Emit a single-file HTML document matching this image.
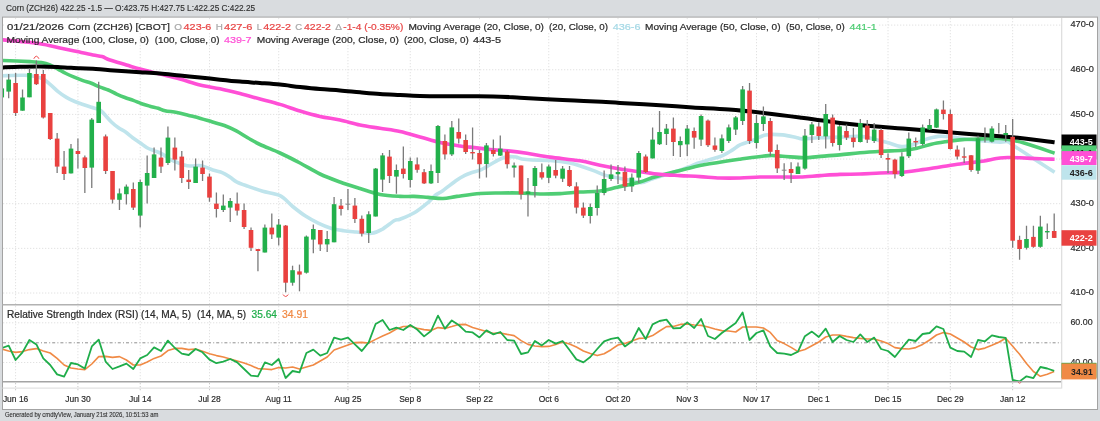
<!DOCTYPE html><html><head><meta charset="utf-8"><style>html,body{margin:0;padding:0;width:1100px;height:421px;overflow:hidden;background:#d9dcdf}svg{display:block;will-change:transform;font-family:"Liberation Sans", sans-serif}</style></head><body>
<svg width="1100" height="421" viewBox="0 0 1100 421">
<rect x="0" y="0" width="1100" height="421" fill="#d9dcdf"/>
<text x="6.1" y="10.6" font-size="8.2" fill="#303030" stroke="#303030" stroke-width="0.15" textLength="249" lengthAdjust="spacingAndGlyphs">Corn (ZCH26) 422.25 -1.5 — O:423.75 H:427.75 L:422.25 C:422.25</text>
<rect x="2.5" y="17.1" width="1095" height="392.4" fill="#fff" stroke="#a3a3a3" stroke-width="1"/>
<defs><clipPath id="pc"><rect x="3" y="18" width="1058.5" height="286"/></clipPath><clipPath id="rc"><rect x="3" y="305.5" width="1058.5" height="76"/></clipPath></defs>
<line x1="3" y1="25.10" x2="1061" y2="25.10" stroke="#e2e2e2" stroke-width="1" stroke-dasharray="1.3 1.7"/>
<line x1="3" y1="69.75" x2="1061" y2="69.75" stroke="#e2e2e2" stroke-width="1" stroke-dasharray="1.3 1.7"/>
<line x1="3" y1="114.40" x2="1061" y2="114.40" stroke="#e2e2e2" stroke-width="1" stroke-dasharray="1.3 1.7"/>
<line x1="3" y1="159.05" x2="1061" y2="159.05" stroke="#e2e2e2" stroke-width="1" stroke-dasharray="1.3 1.7"/>
<line x1="3" y1="203.70" x2="1061" y2="203.70" stroke="#e2e2e2" stroke-width="1" stroke-dasharray="1.3 1.7"/>
<line x1="3" y1="248.35" x2="1061" y2="248.35" stroke="#e2e2e2" stroke-width="1" stroke-dasharray="1.3 1.7"/>
<line x1="3" y1="293.00" x2="1061" y2="293.00" stroke="#e2e2e2" stroke-width="1" stroke-dasharray="1.3 1.7"/>
<line x1="15.60" y1="18" x2="15.60" y2="381" stroke="#e2e2e2" stroke-width="1" stroke-dasharray="1.3 1.7"/>
<line x1="15.60" y1="383" x2="15.60" y2="391" stroke="#c8c8c8" stroke-width="1" stroke-dasharray="1.3 1.7"/>
<line x1="77.92" y1="18" x2="77.92" y2="381" stroke="#e2e2e2" stroke-width="1" stroke-dasharray="1.3 1.7"/>
<line x1="77.92" y1="383" x2="77.92" y2="391" stroke="#c8c8c8" stroke-width="1" stroke-dasharray="1.3 1.7"/>
<line x1="140.23" y1="18" x2="140.23" y2="381" stroke="#e2e2e2" stroke-width="1" stroke-dasharray="1.3 1.7"/>
<line x1="140.23" y1="383" x2="140.23" y2="391" stroke="#c8c8c8" stroke-width="1" stroke-dasharray="1.3 1.7"/>
<line x1="209.47" y1="18" x2="209.47" y2="381" stroke="#e2e2e2" stroke-width="1" stroke-dasharray="1.3 1.7"/>
<line x1="209.47" y1="383" x2="209.47" y2="391" stroke="#c8c8c8" stroke-width="1" stroke-dasharray="1.3 1.7"/>
<line x1="278.71" y1="18" x2="278.71" y2="381" stroke="#e2e2e2" stroke-width="1" stroke-dasharray="1.3 1.7"/>
<line x1="278.71" y1="383" x2="278.71" y2="391" stroke="#c8c8c8" stroke-width="1" stroke-dasharray="1.3 1.7"/>
<line x1="347.95" y1="18" x2="347.95" y2="381" stroke="#e2e2e2" stroke-width="1" stroke-dasharray="1.3 1.7"/>
<line x1="347.95" y1="383" x2="347.95" y2="391" stroke="#c8c8c8" stroke-width="1" stroke-dasharray="1.3 1.7"/>
<line x1="410.27" y1="18" x2="410.27" y2="381" stroke="#e2e2e2" stroke-width="1" stroke-dasharray="1.3 1.7"/>
<line x1="410.27" y1="383" x2="410.27" y2="391" stroke="#c8c8c8" stroke-width="1" stroke-dasharray="1.3 1.7"/>
<line x1="479.51" y1="18" x2="479.51" y2="381" stroke="#e2e2e2" stroke-width="1" stroke-dasharray="1.3 1.7"/>
<line x1="479.51" y1="383" x2="479.51" y2="391" stroke="#c8c8c8" stroke-width="1" stroke-dasharray="1.3 1.7"/>
<line x1="548.75" y1="18" x2="548.75" y2="381" stroke="#e2e2e2" stroke-width="1" stroke-dasharray="1.3 1.7"/>
<line x1="548.75" y1="383" x2="548.75" y2="391" stroke="#c8c8c8" stroke-width="1" stroke-dasharray="1.3 1.7"/>
<line x1="617.99" y1="18" x2="617.99" y2="381" stroke="#e2e2e2" stroke-width="1" stroke-dasharray="1.3 1.7"/>
<line x1="617.99" y1="383" x2="617.99" y2="391" stroke="#c8c8c8" stroke-width="1" stroke-dasharray="1.3 1.7"/>
<line x1="687.23" y1="18" x2="687.23" y2="381" stroke="#e2e2e2" stroke-width="1" stroke-dasharray="1.3 1.7"/>
<line x1="687.23" y1="383" x2="687.23" y2="391" stroke="#c8c8c8" stroke-width="1" stroke-dasharray="1.3 1.7"/>
<line x1="756.47" y1="18" x2="756.47" y2="381" stroke="#e2e2e2" stroke-width="1" stroke-dasharray="1.3 1.7"/>
<line x1="756.47" y1="383" x2="756.47" y2="391" stroke="#c8c8c8" stroke-width="1" stroke-dasharray="1.3 1.7"/>
<line x1="818.78" y1="18" x2="818.78" y2="381" stroke="#e2e2e2" stroke-width="1" stroke-dasharray="1.3 1.7"/>
<line x1="818.78" y1="383" x2="818.78" y2="391" stroke="#c8c8c8" stroke-width="1" stroke-dasharray="1.3 1.7"/>
<line x1="888.02" y1="18" x2="888.02" y2="381" stroke="#e2e2e2" stroke-width="1" stroke-dasharray="1.3 1.7"/>
<line x1="888.02" y1="383" x2="888.02" y2="391" stroke="#c8c8c8" stroke-width="1" stroke-dasharray="1.3 1.7"/>
<line x1="950.34" y1="18" x2="950.34" y2="381" stroke="#e2e2e2" stroke-width="1" stroke-dasharray="1.3 1.7"/>
<line x1="950.34" y1="383" x2="950.34" y2="391" stroke="#c8c8c8" stroke-width="1" stroke-dasharray="1.3 1.7"/>
<line x1="1012.66" y1="18" x2="1012.66" y2="381" stroke="#e2e2e2" stroke-width="1" stroke-dasharray="1.3 1.7"/>
<line x1="1012.66" y1="383" x2="1012.66" y2="391" stroke="#c8c8c8" stroke-width="1" stroke-dasharray="1.3 1.7"/>
<line x1="3" y1="322.8" x2="1061" y2="322.8" stroke="#e2e2e2" stroke-width="1" stroke-dasharray="1.3 1.7"/>
<line x1="3" y1="362.5" x2="1061" y2="362.5" stroke="#e2e2e2" stroke-width="1" stroke-dasharray="1.3 1.7"/>
<line x1="3" y1="342.8" x2="1061" y2="342.8" stroke="#8f8f8f" stroke-width="1" stroke-dasharray="3 2.2 1 2"/>
<g clip-path="url(#pc)">
<path d="M2.00,75.80 C5.83,75.72 18.42,74.88 25.00,75.30 C31.58,75.72 37.37,76.83 41.50,78.30 C45.63,79.77 47.03,81.88 49.80,84.10 C52.57,86.32 55.33,89.38 58.10,91.60 C60.87,93.82 63.62,95.75 66.40,97.40 C69.18,99.05 72.02,100.32 74.80,101.50 C77.58,102.68 80.33,103.53 83.10,104.50 C85.87,105.47 88.63,106.42 91.40,107.30 C94.17,108.18 97.60,108.72 99.70,109.80 C101.80,110.88 102.05,111.77 104.00,113.80 C105.95,115.83 108.98,119.67 111.40,122.00 C113.82,124.33 116.13,126.13 118.50,127.80 C120.87,129.47 123.23,130.35 125.60,132.00 C127.97,133.65 130.30,135.92 132.70,137.70 C135.10,139.48 137.62,141.03 140.00,142.70 C142.38,144.37 144.67,146.38 147.00,147.70 C149.33,149.02 151.67,149.65 154.00,150.60 C156.33,151.55 158.67,152.22 161.00,153.40 C163.33,154.58 166.50,156.72 168.00,157.70 C169.50,158.68 167.28,158.08 170.00,159.30 C172.72,160.52 180.73,163.88 184.30,165.00 C187.87,166.12 188.55,165.88 191.40,166.00 C194.25,166.12 197.83,165.03 201.40,165.70 C204.97,166.37 209.25,168.82 212.80,170.00 C216.35,171.18 219.85,171.62 222.70,172.80 C225.55,173.98 227.52,175.55 229.90,177.10 C232.28,178.65 233.92,180.55 237.00,182.10 C240.08,183.65 244.12,184.87 248.40,186.40 C252.68,187.93 257.43,189.75 262.70,191.30 C267.97,192.85 275.00,193.17 280.00,195.70 C285.00,198.23 288.45,203.10 292.70,206.50 C296.95,209.90 301.25,213.33 305.50,216.10 C309.75,218.87 313.97,221.08 318.20,223.10 C322.43,225.12 326.67,226.93 330.90,228.20 C335.13,229.47 339.35,230.07 343.60,230.70 C347.85,231.33 351.73,231.57 356.40,232.00 C361.07,232.43 367.37,233.72 371.60,233.30 C375.83,232.88 377.98,231.63 381.80,229.50 C385.62,227.37 391.47,222.22 394.50,220.50 C397.53,218.78 396.70,220.48 400.00,219.20 C403.30,217.92 409.55,215.65 414.30,212.80 C419.05,209.95 424.93,205.07 428.50,202.10 C432.07,199.13 433.32,196.90 435.70,195.00 C438.08,193.10 439.25,193.20 442.80,190.70 C446.35,188.20 453.43,182.50 457.00,180.00 C460.57,177.50 461.82,176.90 464.20,175.70 C466.58,174.50 468.67,173.72 471.30,172.80 C473.93,171.88 476.88,171.53 480.00,170.20 C483.12,168.87 487.00,166.47 490.00,164.80 C493.00,163.13 495.67,161.42 498.00,160.20 C500.33,158.98 502.00,158.10 504.00,157.50 C506.00,156.90 508.00,156.67 510.00,156.60 C512.00,156.53 514.00,156.70 516.00,157.10 C518.00,157.50 519.33,158.52 522.00,159.00 C524.67,159.48 527.33,159.77 532.00,160.00 C536.67,160.23 543.67,159.90 550.00,160.40 C556.33,160.90 564.70,161.98 570.00,163.00 C575.30,164.02 577.87,165.23 581.80,166.50 C585.73,167.77 589.65,169.12 593.60,170.60 C597.55,172.08 601.55,174.22 605.50,175.40 C609.45,176.58 613.37,176.92 617.30,177.70 C621.23,178.48 625.15,179.25 629.10,180.10 C633.05,180.95 637.18,182.98 641.00,182.80 C644.82,182.62 648.17,180.25 652.00,179.00 C655.83,177.75 660.00,176.55 664.00,175.30 C668.00,174.05 672.00,172.83 676.00,171.50 C680.00,170.17 684.50,168.63 688.00,167.30 C691.50,165.97 693.17,164.85 697.00,163.50 C700.83,162.15 706.73,160.52 711.00,159.20 C715.27,157.88 719.00,157.15 722.60,155.60 C726.20,154.05 729.70,151.68 732.60,149.90 C735.50,148.12 736.43,146.57 740.00,144.90 C743.57,143.23 749.73,141.57 754.00,139.90 C758.27,138.23 760.82,135.73 765.60,134.90 C770.38,134.07 777.47,134.42 782.70,134.90 C787.93,135.38 793.45,137.13 797.00,137.80 C800.55,138.47 800.50,138.90 804.00,138.90 C807.50,138.90 812.00,138.10 818.00,137.80 C824.00,137.50 833.00,137.33 840.00,137.10 C847.00,136.87 854.28,136.05 860.00,136.40 C865.72,136.75 869.55,138.13 874.30,139.20 C879.05,140.27 884.23,141.60 888.50,142.80 C892.77,144.00 896.33,145.93 899.90,146.40 C903.47,146.87 905.85,146.68 909.90,145.60 C913.95,144.52 919.45,141.43 924.20,139.90 C928.95,138.37 933.65,136.87 938.40,136.40 C943.15,135.93 947.95,136.63 952.70,137.10 C957.45,137.57 962.15,138.60 966.90,139.20 C971.65,139.80 975.68,140.22 981.20,140.70 C986.72,141.18 995.53,141.92 1000.00,142.10 C1004.47,142.28 1005.33,140.95 1008.00,141.80 C1010.67,142.65 1008.23,142.13 1016.00,147.20 C1023.77,152.27 1048.17,168.03 1054.60,172.20" fill="none" stroke="#bfe4ec" stroke-width="3.6" stroke-linejoin="round"/>
<path d="M2.00,60.50 C6.67,60.68 23.42,61.27 30.00,61.60 C36.58,61.93 38.17,61.97 41.50,62.50 C44.83,63.03 47.25,63.70 50.00,64.80 C52.75,65.90 55.33,67.65 58.00,69.10 C60.67,70.55 63.20,72.12 66.00,73.50 C68.80,74.88 71.97,76.22 74.80,77.40 C77.63,78.58 80.23,79.62 83.00,80.60 C85.77,81.58 88.57,82.22 91.40,83.30 C94.23,84.38 97.18,85.98 100.00,87.10 C102.82,88.22 105.53,88.83 108.30,90.00 C111.07,91.17 113.83,92.85 116.60,94.10 C119.37,95.35 122.12,96.45 124.90,97.50 C127.68,98.55 130.52,99.37 133.30,100.40 C136.08,101.43 138.83,102.73 141.60,103.70 C144.37,104.67 147.13,105.43 149.90,106.20 C152.67,106.97 155.68,107.55 158.20,108.30 C160.72,109.05 161.88,110.00 165.00,110.70 C168.12,111.40 172.93,111.72 176.90,112.50 C180.87,113.28 184.85,114.42 188.80,115.40 C192.75,116.38 196.65,117.30 200.60,118.40 C204.55,119.50 208.53,120.82 212.50,122.00 C216.47,123.18 220.43,124.02 224.40,125.50 C228.37,126.98 232.35,128.82 236.30,130.90 C240.25,132.98 244.15,135.73 248.10,138.00 C252.05,140.27 254.68,142.00 260.00,144.50 C265.32,147.00 273.33,149.92 280.00,153.00 C286.67,156.08 293.33,159.50 300.00,163.00 C306.67,166.50 313.33,170.83 320.00,174.00 C326.67,177.17 333.33,179.58 340.00,182.00 C346.67,184.42 353.33,186.43 360.00,188.50 C366.67,190.57 373.33,193.08 380.00,194.40 C386.67,195.72 394.33,196.07 400.00,196.40 C405.67,196.73 409.33,196.23 414.00,196.40 C418.67,196.57 423.17,197.05 428.00,197.40 C432.83,197.75 438.17,198.67 443.00,198.50 C447.83,198.33 450.83,197.23 457.00,196.40 C463.17,195.57 472.83,194.07 480.00,193.50 C487.17,192.93 493.33,193.08 500.00,193.00 C506.67,192.92 513.33,192.83 520.00,193.00 C526.67,193.17 533.33,193.90 540.00,194.00 C546.67,194.10 553.33,193.93 560.00,193.60 C566.67,193.27 573.33,192.43 580.00,192.00 C586.67,191.57 593.78,191.80 600.00,191.00 C606.22,190.20 610.63,188.70 617.30,187.20 C623.97,185.70 634.23,183.57 640.00,182.00 C645.77,180.43 647.93,179.03 651.90,177.80 C655.87,176.57 659.83,175.63 663.80,174.60 C667.77,173.57 671.75,172.60 675.70,171.60 C679.65,170.60 683.45,169.60 687.50,168.60 C691.55,167.60 693.67,166.82 700.00,165.60 C706.33,164.38 718.83,162.37 725.50,161.30 C732.17,160.23 732.83,160.15 740.00,159.20 C747.17,158.25 761.38,156.08 768.50,155.60 C775.62,155.12 776.78,155.95 782.70,156.30 C788.62,156.65 798.07,157.65 804.00,157.70 C809.93,157.75 812.35,157.07 818.30,156.60 C824.25,156.13 832.75,155.53 839.70,154.90 C846.65,154.27 853.05,153.40 860.00,152.80 C866.95,152.20 874.27,151.73 881.40,151.30 C888.53,150.87 896.87,150.72 902.80,150.20 C908.73,149.68 912.25,149.20 917.00,148.20 C921.75,147.20 926.55,145.28 931.30,144.20 C936.05,143.12 940.75,142.42 945.50,141.70 C950.25,140.98 955.05,140.32 959.80,139.90 C964.55,139.48 967.30,139.43 974.00,139.20 C980.70,138.97 991.67,137.87 1000.00,138.50 C1008.33,139.13 1014.90,140.55 1024.00,143.00 C1033.10,145.45 1049.50,151.50 1054.60,153.20" fill="none" stroke="#4fcd74" stroke-width="3.6" stroke-linejoin="round"/>
<path d="M2.00,39.80 C5.00,40.07 13.67,40.73 20.00,41.40 C26.33,42.07 33.33,42.72 40.00,43.80 C46.67,44.88 53.83,46.60 60.00,47.90 C66.17,49.20 71.50,50.42 77.00,51.60 C82.50,52.78 88.83,54.17 93.00,55.00 C97.17,55.83 99.17,55.77 102.00,56.60 C104.83,57.43 105.92,58.60 110.00,60.00 C114.08,61.40 121.50,63.48 126.50,65.00 C131.50,66.52 134.42,67.60 140.00,69.10 C145.58,70.60 153.33,72.35 160.00,74.00 C166.67,75.65 173.33,77.17 180.00,79.00 C186.67,80.83 193.33,83.37 200.00,85.00 C206.67,86.63 213.33,87.37 220.00,88.80 C226.67,90.23 233.33,91.90 240.00,93.60 C246.67,95.30 253.33,97.20 260.00,99.00 C266.67,100.80 273.33,102.40 280.00,104.40 C286.67,106.40 293.33,109.00 300.00,111.00 C306.67,113.00 313.33,114.90 320.00,116.40 C326.67,117.90 333.33,118.57 340.00,120.00 C346.67,121.43 353.33,123.62 360.00,125.00 C366.67,126.38 373.33,127.22 380.00,128.30 C386.67,129.38 393.33,130.07 400.00,131.50 C406.67,132.93 413.33,135.07 420.00,136.90 C426.67,138.73 433.33,140.98 440.00,142.50 C446.67,144.02 455.00,145.23 460.00,146.00 C465.00,146.77 465.00,146.52 470.00,147.10 C475.00,147.68 483.67,148.87 490.00,149.50 C496.33,150.13 501.83,150.27 508.00,150.90 C514.17,151.53 520.00,152.27 527.00,153.30 C534.00,154.33 541.17,155.85 550.00,157.10 C558.83,158.35 571.67,159.43 580.00,160.80 C588.33,162.17 593.33,163.93 600.00,165.30 C606.67,166.67 613.33,167.92 620.00,169.00 C626.67,170.08 633.33,170.90 640.00,171.80 C646.67,172.70 653.33,173.77 660.00,174.40 C666.67,175.03 673.33,175.23 680.00,175.60 C686.67,175.97 693.33,176.20 700.00,176.60 C706.67,177.00 713.33,177.77 720.00,178.00 C726.67,178.23 733.33,178.17 740.00,178.00 C746.67,177.83 753.33,177.17 760.00,177.00 C766.67,176.83 773.33,177.00 780.00,177.00 C786.67,177.00 793.33,177.23 800.00,177.00 C806.67,176.77 813.33,176.03 820.00,175.60 C826.67,175.17 833.33,174.67 840.00,174.40 C846.67,174.13 853.33,174.23 860.00,174.00 C866.67,173.77 873.33,173.27 880.00,173.00 C886.67,172.73 893.33,172.90 900.00,172.40 C906.67,171.90 913.33,170.90 920.00,170.00 C926.67,169.10 933.33,168.00 940.00,167.00 C946.67,166.00 953.33,164.92 960.00,164.00 C966.67,163.08 973.33,162.50 980.00,161.50 C986.67,160.50 995.00,158.67 1000.00,158.00 C1005.00,157.33 1006.67,157.53 1010.00,157.50 C1013.33,157.47 1015.00,157.58 1020.00,157.80 C1025.00,158.02 1034.23,158.57 1040.00,158.80 C1045.77,159.03 1052.17,159.13 1054.60,159.20" fill="none" stroke="#ff4fd6" stroke-width="3.6" stroke-linejoin="round"/>
<path d="M2.00,67.50 C5.00,67.38 13.67,66.97 20.00,66.80 C26.33,66.63 33.33,66.43 40.00,66.50 C46.67,66.57 53.33,66.90 60.00,67.20 C66.67,67.50 74.50,68.05 80.00,68.30 C85.50,68.55 88.00,68.37 93.00,68.70 C98.00,69.03 102.17,69.72 110.00,70.30 C117.83,70.88 131.67,71.65 140.00,72.20 C148.33,72.75 153.33,73.03 160.00,73.60 C166.67,74.17 173.33,74.95 180.00,75.60 C186.67,76.25 193.33,76.82 200.00,77.50 C206.67,78.18 213.33,79.02 220.00,79.70 C226.67,80.38 233.33,81.05 240.00,81.60 C246.67,82.15 253.33,82.50 260.00,83.00 C266.67,83.50 273.33,83.93 280.00,84.60 C286.67,85.27 293.33,86.27 300.00,87.00 C306.67,87.73 313.33,88.43 320.00,89.00 C326.67,89.57 333.33,89.85 340.00,90.40 C346.67,90.95 353.33,91.70 360.00,92.30 C366.67,92.90 373.33,93.55 380.00,94.00 C386.67,94.45 393.33,94.68 400.00,95.00 C406.67,95.32 410.67,95.68 420.00,95.90 C429.33,96.12 443.83,96.22 456.00,96.30 C468.17,96.38 482.33,96.17 493.00,96.40 C503.67,96.63 511.00,97.23 520.00,97.70 C529.00,98.17 537.92,98.73 547.00,99.20 C556.08,99.67 565.37,100.07 574.50,100.50 C583.63,100.93 594.22,101.38 601.80,101.80 C609.38,102.22 610.97,102.47 620.00,103.00 C629.03,103.53 643.88,104.27 656.00,105.00 C668.12,105.73 680.53,106.65 692.70,107.40 C704.87,108.15 716.87,108.53 729.00,109.50 C741.13,110.47 753.37,111.83 765.50,113.20 C777.63,114.57 792.72,116.53 801.80,117.70 C810.88,118.87 813.63,119.32 820.00,120.20 C826.37,121.08 830.00,121.90 840.00,123.00 C850.00,124.10 869.53,125.88 880.00,126.80 C890.47,127.72 891.88,127.62 902.80,128.50 C913.72,129.38 929.30,130.82 945.50,132.10 C961.70,133.38 987.58,135.22 1000.00,136.20 C1012.42,137.18 1010.90,136.98 1020.00,138.00 C1029.10,139.02 1048.83,141.58 1054.60,142.30" fill="none" stroke="#000000" stroke-width="4.0" stroke-linejoin="round"/>
<line x1="1.75" y1="88.4" x2="1.75" y2="97.4" stroke="#7a7a7a" stroke-width="1.3"/>
<rect x="-0.55" y="88.40" width="4.6" height="9.00" fill="#22b04b"/>
<line x1="8.68" y1="74.0" x2="8.68" y2="98.3" stroke="#7a7a7a" stroke-width="1.3"/>
<rect x="6.38" y="79.60" width="4.6" height="12.00" fill="#22b04b"/>
<line x1="15.60" y1="73.0" x2="15.60" y2="116.0" stroke="#7a7a7a" stroke-width="1.3"/>
<rect x="13.30" y="83.00" width="4.6" height="30.00" fill="#e9413f"/>
<line x1="22.52" y1="89.6" x2="22.52" y2="110.8" stroke="#7a7a7a" stroke-width="1.3"/>
<rect x="20.22" y="97.50" width="4.6" height="13.20" fill="#22b04b"/>
<line x1="29.45" y1="68.3" x2="29.45" y2="97.3" stroke="#7a7a7a" stroke-width="1.3"/>
<rect x="27.15" y="73.00" width="4.6" height="24.30" fill="#22b04b"/>
<line x1="36.37" y1="60.5" x2="36.37" y2="85.0" stroke="#7a7a7a" stroke-width="1.3"/>
<rect x="34.07" y="74.00" width="4.6" height="10.20" fill="#e9413f"/>
<line x1="43.30" y1="70.0" x2="43.30" y2="118.4" stroke="#7a7a7a" stroke-width="1.3"/>
<rect x="41.00" y="74.00" width="4.6" height="43.50" fill="#e9413f"/>
<line x1="50.22" y1="113.0" x2="50.22" y2="140.0" stroke="#7a7a7a" stroke-width="1.3"/>
<rect x="47.92" y="113.00" width="4.6" height="26.00" fill="#e9413f"/>
<line x1="57.14" y1="133.0" x2="57.14" y2="173.0" stroke="#7a7a7a" stroke-width="1.3"/>
<rect x="54.84" y="138.60" width="4.6" height="28.00" fill="#e9413f"/>
<line x1="64.07" y1="151.0" x2="64.07" y2="180.0" stroke="#7a7a7a" stroke-width="1.3"/>
<rect x="61.77" y="166.60" width="4.6" height="7.40" fill="#e9413f"/>
<line x1="70.99" y1="144.0" x2="70.99" y2="173.4" stroke="#7a7a7a" stroke-width="1.3"/>
<rect x="68.69" y="148.60" width="4.6" height="24.80" fill="#22b04b"/>
<line x1="77.92" y1="138.6" x2="77.92" y2="168.6" stroke="#7a7a7a" stroke-width="1.3"/>
<rect x="75.62" y="151.00" width="4.6" height="3.00" fill="#e9413f"/>
<line x1="84.84" y1="155.6" x2="84.84" y2="193.0" stroke="#7a7a7a" stroke-width="1.3"/>
<rect x="82.54" y="157.40" width="4.6" height="10.60" fill="#e9413f"/>
<line x1="91.76" y1="118.0" x2="91.76" y2="188.0" stroke="#7a7a7a" stroke-width="1.3"/>
<rect x="89.46" y="119.60" width="4.6" height="48.00" fill="#22b04b"/>
<line x1="98.69" y1="81.7" x2="98.69" y2="123.0" stroke="#7a7a7a" stroke-width="1.3"/>
<rect x="96.39" y="101.80" width="4.6" height="21.20" fill="#22b04b"/>
<line x1="105.61" y1="134.4" x2="105.61" y2="174.0" stroke="#7a7a7a" stroke-width="1.3"/>
<rect x="103.31" y="136.40" width="4.6" height="34.60" fill="#e9413f"/>
<line x1="112.54" y1="171.0" x2="112.54" y2="203.6" stroke="#7a7a7a" stroke-width="1.3"/>
<rect x="110.24" y="171.00" width="4.6" height="28.60" fill="#e9413f"/>
<line x1="119.46" y1="188.6" x2="119.46" y2="210.0" stroke="#7a7a7a" stroke-width="1.3"/>
<rect x="117.16" y="193.40" width="4.6" height="6.40" fill="#22b04b"/>
<line x1="126.38" y1="184.4" x2="126.38" y2="204.4" stroke="#7a7a7a" stroke-width="1.3"/>
<rect x="124.08" y="186.60" width="4.6" height="7.60" fill="#22b04b"/>
<line x1="133.31" y1="182.4" x2="133.31" y2="210.0" stroke="#7a7a7a" stroke-width="1.3"/>
<rect x="131.01" y="189.00" width="4.6" height="18.60" fill="#e9413f"/>
<line x1="140.23" y1="179.6" x2="140.23" y2="227.6" stroke="#7a7a7a" stroke-width="1.3"/>
<rect x="137.93" y="182.00" width="4.6" height="33.60" fill="#22b04b"/>
<line x1="147.16" y1="155.6" x2="147.16" y2="203.6" stroke="#7a7a7a" stroke-width="1.3"/>
<rect x="144.86" y="173.00" width="4.6" height="12.60" fill="#22b04b"/>
<line x1="154.08" y1="147.6" x2="154.08" y2="178.0" stroke="#7a7a7a" stroke-width="1.3"/>
<rect x="151.78" y="154.40" width="4.6" height="23.60" fill="#22b04b"/>
<line x1="161.00" y1="147.6" x2="161.00" y2="173.0" stroke="#7a7a7a" stroke-width="1.3"/>
<rect x="158.70" y="157.60" width="4.6" height="9.00" fill="#e9413f"/>
<line x1="167.93" y1="126.4" x2="167.93" y2="165.0" stroke="#7a7a7a" stroke-width="1.3"/>
<rect x="165.63" y="137.60" width="4.6" height="25.40" fill="#22b04b"/>
<line x1="174.85" y1="137.6" x2="174.85" y2="170.6" stroke="#7a7a7a" stroke-width="1.3"/>
<rect x="172.55" y="147.60" width="4.6" height="12.00" fill="#e9413f"/>
<line x1="181.78" y1="151.0" x2="181.78" y2="183.0" stroke="#7a7a7a" stroke-width="1.3"/>
<rect x="179.48" y="156.60" width="4.6" height="21.40" fill="#e9413f"/>
<line x1="188.70" y1="170.0" x2="188.70" y2="189.0" stroke="#7a7a7a" stroke-width="1.3"/>
<rect x="186.40" y="179.60" width="4.6" height="2.40" fill="#e9413f"/>
<line x1="195.62" y1="158.6" x2="195.62" y2="183.0" stroke="#7a7a7a" stroke-width="1.3"/>
<rect x="193.32" y="166.60" width="4.6" height="16.40" fill="#22b04b"/>
<line x1="202.55" y1="160.6" x2="202.55" y2="181.0" stroke="#7a7a7a" stroke-width="1.3"/>
<rect x="200.25" y="167.60" width="4.6" height="6.40" fill="#e9413f"/>
<line x1="209.47" y1="173.6" x2="209.47" y2="201.8" stroke="#7a7a7a" stroke-width="1.3"/>
<rect x="207.17" y="176.60" width="4.6" height="21.00" fill="#e9413f"/>
<line x1="216.40" y1="192.4" x2="216.40" y2="217.6" stroke="#7a7a7a" stroke-width="1.3"/>
<rect x="214.10" y="203.60" width="4.6" height="5.40" fill="#e9413f"/>
<line x1="223.32" y1="194.4" x2="223.32" y2="212.0" stroke="#7a7a7a" stroke-width="1.3"/>
<rect x="221.02" y="205.60" width="4.6" height="4.40" fill="#22b04b"/>
<line x1="230.24" y1="198.0" x2="230.24" y2="222.0" stroke="#7a7a7a" stroke-width="1.3"/>
<rect x="227.94" y="201.00" width="4.6" height="6.60" fill="#22b04b"/>
<line x1="237.17" y1="192.4" x2="237.17" y2="215.6" stroke="#7a7a7a" stroke-width="1.3"/>
<rect x="234.87" y="203.60" width="4.6" height="7.00" fill="#e9413f"/>
<line x1="244.09" y1="203.6" x2="244.09" y2="229.0" stroke="#7a7a7a" stroke-width="1.3"/>
<rect x="241.79" y="210.00" width="4.6" height="17.00" fill="#e9413f"/>
<line x1="251.02" y1="227.6" x2="251.02" y2="251.0" stroke="#7a7a7a" stroke-width="1.3"/>
<rect x="248.72" y="230.00" width="4.6" height="17.80" fill="#e9413f"/>
<line x1="257.94" y1="249.0" x2="257.94" y2="271.2" stroke="#7a7a7a" stroke-width="1.3"/>
<rect x="255.64" y="249.10" width="4.6" height="1.90" fill="#e9413f"/>
<line x1="264.86" y1="224.4" x2="264.86" y2="252.5" stroke="#7a7a7a" stroke-width="1.3"/>
<rect x="262.56" y="227.60" width="4.6" height="24.90" fill="#22b04b"/>
<line x1="271.79" y1="213.6" x2="271.79" y2="239.0" stroke="#7a7a7a" stroke-width="1.3"/>
<rect x="269.49" y="227.60" width="4.6" height="6.80" fill="#e9413f"/>
<line x1="278.71" y1="219.0" x2="278.71" y2="245.6" stroke="#7a7a7a" stroke-width="1.3"/>
<rect x="276.41" y="224.60" width="4.6" height="13.00" fill="#22b04b"/>
<line x1="285.64" y1="225.0" x2="285.64" y2="292.3" stroke="#7a7a7a" stroke-width="1.3"/>
<rect x="283.34" y="225.60" width="4.6" height="57.10" fill="#e9413f"/>
<line x1="292.56" y1="265.7" x2="292.56" y2="285.7" stroke="#7a7a7a" stroke-width="1.3"/>
<rect x="290.26" y="270.20" width="4.6" height="12.50" fill="#22b04b"/>
<line x1="299.48" y1="264.6" x2="299.48" y2="291.3" stroke="#7a7a7a" stroke-width="1.3"/>
<rect x="297.18" y="271.40" width="4.6" height="3.20" fill="#e9413f"/>
<line x1="306.41" y1="235.6" x2="306.41" y2="273.6" stroke="#7a7a7a" stroke-width="1.3"/>
<rect x="304.11" y="236.60" width="4.6" height="36.10" fill="#22b04b"/>
<line x1="313.33" y1="224.4" x2="313.33" y2="253.3" stroke="#7a7a7a" stroke-width="1.3"/>
<rect x="311.03" y="229.00" width="4.6" height="10.60" fill="#22b04b"/>
<line x1="320.26" y1="230.0" x2="320.26" y2="251.0" stroke="#7a7a7a" stroke-width="1.3"/>
<rect x="317.96" y="230.00" width="4.6" height="14.40" fill="#e9413f"/>
<line x1="327.18" y1="231.0" x2="327.18" y2="252.0" stroke="#7a7a7a" stroke-width="1.3"/>
<rect x="324.88" y="239.00" width="4.6" height="5.40" fill="#22b04b"/>
<line x1="334.10" y1="197.0" x2="334.10" y2="242.3" stroke="#7a7a7a" stroke-width="1.3"/>
<rect x="331.80" y="204.20" width="4.6" height="38.10" fill="#22b04b"/>
<line x1="341.03" y1="199.0" x2="341.03" y2="215.6" stroke="#7a7a7a" stroke-width="1.3"/>
<rect x="338.73" y="205.60" width="4.6" height="3.40" fill="#e9413f"/>
<line x1="347.95" y1="189.0" x2="347.95" y2="210.0" stroke="#7a7a7a" stroke-width="1.3"/>
<line x1="345.55" y1="204.2" x2="350.35" y2="204.2" stroke="#8a8a8a" stroke-width="1"/>
<line x1="354.88" y1="198.0" x2="354.88" y2="223.0" stroke="#7a7a7a" stroke-width="1.3"/>
<rect x="352.58" y="205.60" width="4.6" height="13.40" fill="#e9413f"/>
<line x1="361.80" y1="215.6" x2="361.80" y2="236.4" stroke="#7a7a7a" stroke-width="1.3"/>
<rect x="359.50" y="218.80" width="4.6" height="14.80" fill="#e9413f"/>
<line x1="368.72" y1="211.3" x2="368.72" y2="243.0" stroke="#7a7a7a" stroke-width="1.3"/>
<rect x="366.42" y="214.30" width="4.6" height="18.70" fill="#22b04b"/>
<line x1="375.65" y1="168.0" x2="375.65" y2="216.5" stroke="#7a7a7a" stroke-width="1.3"/>
<rect x="373.35" y="168.60" width="4.6" height="47.90" fill="#22b04b"/>
<line x1="382.57" y1="153.0" x2="382.57" y2="192.0" stroke="#7a7a7a" stroke-width="1.3"/>
<rect x="380.27" y="155.40" width="4.6" height="24.20" fill="#22b04b"/>
<line x1="389.50" y1="150.0" x2="389.50" y2="183.0" stroke="#7a7a7a" stroke-width="1.3"/>
<rect x="387.20" y="156.60" width="4.6" height="19.40" fill="#e9413f"/>
<line x1="396.42" y1="164.4" x2="396.42" y2="193.8" stroke="#7a7a7a" stroke-width="1.3"/>
<rect x="394.12" y="170.00" width="4.6" height="6.60" fill="#22b04b"/>
<line x1="403.34" y1="146.4" x2="403.34" y2="178.6" stroke="#7a7a7a" stroke-width="1.3"/>
<rect x="401.04" y="168.60" width="4.6" height="5.40" fill="#e9413f"/>
<line x1="410.27" y1="157.4" x2="410.27" y2="187.6" stroke="#7a7a7a" stroke-width="1.3"/>
<rect x="407.97" y="161.00" width="4.6" height="19.00" fill="#22b04b"/>
<line x1="417.19" y1="157.5" x2="417.19" y2="172.7" stroke="#7a7a7a" stroke-width="1.3"/>
<rect x="414.89" y="164.40" width="4.6" height="5.40" fill="#e9413f"/>
<line x1="424.12" y1="169.0" x2="424.12" y2="184.0" stroke="#7a7a7a" stroke-width="1.3"/>
<rect x="421.82" y="172.20" width="4.6" height="11.20" fill="#e9413f"/>
<line x1="431.04" y1="164.4" x2="431.04" y2="184.0" stroke="#7a7a7a" stroke-width="1.3"/>
<rect x="428.74" y="171.00" width="4.6" height="12.40" fill="#22b04b"/>
<line x1="437.96" y1="125.0" x2="437.96" y2="183.0" stroke="#7a7a7a" stroke-width="1.3"/>
<rect x="435.66" y="126.00" width="4.6" height="47.00" fill="#22b04b"/>
<line x1="444.89" y1="134.4" x2="444.89" y2="159.6" stroke="#7a7a7a" stroke-width="1.3"/>
<rect x="442.59" y="141.00" width="4.6" height="13.40" fill="#e9413f"/>
<line x1="451.81" y1="121.0" x2="451.81" y2="156.0" stroke="#7a7a7a" stroke-width="1.3"/>
<rect x="449.51" y="127.40" width="4.6" height="27.00" fill="#22b04b"/>
<line x1="458.74" y1="118.6" x2="458.74" y2="143.6" stroke="#7a7a7a" stroke-width="1.3"/>
<rect x="456.44" y="132.00" width="4.6" height="6.60" fill="#e9413f"/>
<line x1="465.66" y1="134.4" x2="465.66" y2="154.0" stroke="#7a7a7a" stroke-width="1.3"/>
<rect x="463.36" y="140.00" width="4.6" height="12.00" fill="#e9413f"/>
<line x1="472.58" y1="127.4" x2="472.58" y2="159.6" stroke="#7a7a7a" stroke-width="1.3"/>
<rect x="470.28" y="152.00" width="4.6" height="1.40" fill="#e9413f"/>
<line x1="479.51" y1="150.0" x2="479.51" y2="178.6" stroke="#7a7a7a" stroke-width="1.3"/>
<rect x="477.21" y="153.00" width="4.6" height="11.20" fill="#e9413f"/>
<line x1="486.43" y1="143.0" x2="486.43" y2="177.6" stroke="#7a7a7a" stroke-width="1.3"/>
<rect x="484.13" y="145.40" width="4.6" height="18.60" fill="#22b04b"/>
<line x1="493.36" y1="139.6" x2="493.36" y2="156.4" stroke="#7a7a7a" stroke-width="1.3"/>
<rect x="491.06" y="150.00" width="4.6" height="4.00" fill="#e9413f"/>
<line x1="500.28" y1="135.4" x2="500.28" y2="156.0" stroke="#7a7a7a" stroke-width="1.3"/>
<rect x="497.98" y="148.60" width="4.6" height="7.00" fill="#22b04b"/>
<line x1="507.20" y1="150.0" x2="507.20" y2="168.4" stroke="#7a7a7a" stroke-width="1.3"/>
<rect x="504.90" y="151.60" width="4.6" height="12.60" fill="#e9413f"/>
<line x1="514.13" y1="162.4" x2="514.13" y2="177.6" stroke="#7a7a7a" stroke-width="1.3"/>
<rect x="511.83" y="165.50" width="4.6" height="2.10" fill="#22b04b"/>
<line x1="521.05" y1="165.4" x2="521.05" y2="199.6" stroke="#7a7a7a" stroke-width="1.3"/>
<rect x="518.75" y="165.50" width="4.6" height="28.90" fill="#e9413f"/>
<line x1="527.98" y1="178.0" x2="527.98" y2="216.4" stroke="#7a7a7a" stroke-width="1.3"/>
<rect x="525.68" y="191.40" width="4.6" height="2.60" fill="#22b04b"/>
<line x1="534.90" y1="166.0" x2="534.90" y2="197.6" stroke="#7a7a7a" stroke-width="1.3"/>
<rect x="532.60" y="168.00" width="4.6" height="18.00" fill="#22b04b"/>
<line x1="541.82" y1="163.6" x2="541.82" y2="179.5" stroke="#7a7a7a" stroke-width="1.3"/>
<rect x="539.52" y="172.20" width="4.6" height="5.40" fill="#e9413f"/>
<line x1="548.75" y1="164.4" x2="548.75" y2="183.0" stroke="#7a7a7a" stroke-width="1.3"/>
<rect x="546.45" y="166.50" width="4.6" height="11.30" fill="#22b04b"/>
<line x1="555.67" y1="160.0" x2="555.67" y2="178.3" stroke="#7a7a7a" stroke-width="1.3"/>
<rect x="553.37" y="170.00" width="4.6" height="5.60" fill="#e9413f"/>
<line x1="562.60" y1="166.0" x2="562.60" y2="182.0" stroke="#7a7a7a" stroke-width="1.3"/>
<rect x="560.30" y="168.60" width="4.6" height="10.10" fill="#22b04b"/>
<line x1="569.52" y1="166.0" x2="569.52" y2="187.0" stroke="#7a7a7a" stroke-width="1.3"/>
<rect x="567.22" y="170.00" width="4.6" height="16.00" fill="#e9413f"/>
<line x1="576.44" y1="182.2" x2="576.44" y2="213.6" stroke="#7a7a7a" stroke-width="1.3"/>
<rect x="574.14" y="186.40" width="4.6" height="21.20" fill="#e9413f"/>
<line x1="583.37" y1="202.4" x2="583.37" y2="218.0" stroke="#7a7a7a" stroke-width="1.3"/>
<rect x="581.07" y="207.60" width="4.6" height="8.00" fill="#e9413f"/>
<line x1="590.29" y1="203.6" x2="590.29" y2="223.6" stroke="#7a7a7a" stroke-width="1.3"/>
<rect x="587.99" y="207.00" width="4.6" height="9.00" fill="#22b04b"/>
<line x1="597.22" y1="185.6" x2="597.22" y2="215.6" stroke="#7a7a7a" stroke-width="1.3"/>
<rect x="594.92" y="193.00" width="4.6" height="15.00" fill="#22b04b"/>
<line x1="604.14" y1="170.4" x2="604.14" y2="195.3" stroke="#7a7a7a" stroke-width="1.3"/>
<rect x="601.84" y="179.00" width="4.6" height="14.00" fill="#22b04b"/>
<line x1="611.06" y1="164.4" x2="611.06" y2="181.0" stroke="#7a7a7a" stroke-width="1.3"/>
<rect x="608.76" y="174.40" width="4.6" height="4.60" fill="#22b04b"/>
<line x1="617.99" y1="165.0" x2="617.99" y2="184.0" stroke="#7a7a7a" stroke-width="1.3"/>
<rect x="615.69" y="172.00" width="4.6" height="2.20" fill="#22b04b"/>
<line x1="624.91" y1="166.4" x2="624.91" y2="191.0" stroke="#7a7a7a" stroke-width="1.3"/>
<rect x="622.61" y="172.00" width="4.6" height="14.40" fill="#e9413f"/>
<line x1="631.84" y1="173.6" x2="631.84" y2="192.0" stroke="#7a7a7a" stroke-width="1.3"/>
<rect x="629.54" y="177.60" width="4.6" height="8.80" fill="#22b04b"/>
<line x1="638.76" y1="151.0" x2="638.76" y2="183.0" stroke="#7a7a7a" stroke-width="1.3"/>
<rect x="636.46" y="153.00" width="4.6" height="24.60" fill="#22b04b"/>
<line x1="645.68" y1="154.4" x2="645.68" y2="173.0" stroke="#7a7a7a" stroke-width="1.3"/>
<rect x="643.38" y="156.50" width="4.6" height="15.50" fill="#e9413f"/>
<line x1="652.61" y1="127.4" x2="652.61" y2="158.4" stroke="#7a7a7a" stroke-width="1.3"/>
<rect x="650.31" y="139.60" width="4.6" height="18.80" fill="#22b04b"/>
<line x1="659.53" y1="111.0" x2="659.53" y2="145.0" stroke="#7a7a7a" stroke-width="1.3"/>
<rect x="657.23" y="132.00" width="4.6" height="12.20" fill="#22b04b"/>
<line x1="666.46" y1="124.0" x2="666.46" y2="145.0" stroke="#7a7a7a" stroke-width="1.3"/>
<rect x="664.16" y="128.60" width="4.6" height="5.40" fill="#22b04b"/>
<line x1="673.38" y1="117.4" x2="673.38" y2="156.0" stroke="#7a7a7a" stroke-width="1.3"/>
<rect x="671.08" y="128.60" width="4.6" height="13.40" fill="#e9413f"/>
<line x1="680.30" y1="136.4" x2="680.30" y2="157.0" stroke="#7a7a7a" stroke-width="1.3"/>
<rect x="678.00" y="141.00" width="4.6" height="4.20" fill="#22b04b"/>
<line x1="687.23" y1="125.0" x2="687.23" y2="156.0" stroke="#7a7a7a" stroke-width="1.3"/>
<rect x="684.93" y="128.60" width="4.6" height="15.80" fill="#22b04b"/>
<line x1="694.15" y1="127.6" x2="694.15" y2="148.7" stroke="#7a7a7a" stroke-width="1.3"/>
<rect x="691.85" y="131.00" width="4.6" height="6.60" fill="#e9413f"/>
<line x1="701.08" y1="114.4" x2="701.08" y2="146.0" stroke="#7a7a7a" stroke-width="1.3"/>
<rect x="698.78" y="116.00" width="4.6" height="23.60" fill="#22b04b"/>
<line x1="708.00" y1="119.6" x2="708.00" y2="147.0" stroke="#7a7a7a" stroke-width="1.3"/>
<rect x="705.70" y="120.60" width="4.6" height="24.60" fill="#e9413f"/>
<line x1="714.92" y1="137.4" x2="714.92" y2="151.8" stroke="#7a7a7a" stroke-width="1.3"/>
<rect x="712.62" y="145.50" width="4.6" height="4.30" fill="#e9413f"/>
<line x1="721.85" y1="134.4" x2="721.85" y2="153.0" stroke="#7a7a7a" stroke-width="1.3"/>
<rect x="719.55" y="138.40" width="4.6" height="12.60" fill="#22b04b"/>
<line x1="728.77" y1="124.4" x2="728.77" y2="143.0" stroke="#7a7a7a" stroke-width="1.3"/>
<rect x="726.47" y="127.40" width="4.6" height="13.60" fill="#22b04b"/>
<line x1="735.70" y1="116.0" x2="735.70" y2="135.0" stroke="#7a7a7a" stroke-width="1.3"/>
<rect x="733.40" y="117.40" width="4.6" height="12.20" fill="#22b04b"/>
<line x1="742.62" y1="86.0" x2="742.62" y2="125.0" stroke="#7a7a7a" stroke-width="1.3"/>
<rect x="740.32" y="89.40" width="4.6" height="31.60" fill="#22b04b"/>
<line x1="749.54" y1="83.0" x2="749.54" y2="144.0" stroke="#7a7a7a" stroke-width="1.3"/>
<rect x="747.24" y="90.60" width="4.6" height="50.40" fill="#e9413f"/>
<line x1="756.47" y1="115.0" x2="756.47" y2="148.4" stroke="#7a7a7a" stroke-width="1.3"/>
<rect x="754.17" y="123.00" width="4.6" height="20.00" fill="#22b04b"/>
<line x1="763.39" y1="106.4" x2="763.39" y2="131.0" stroke="#7a7a7a" stroke-width="1.3"/>
<rect x="761.09" y="116.40" width="4.6" height="7.60" fill="#22b04b"/>
<line x1="770.32" y1="118.0" x2="770.32" y2="156.0" stroke="#7a7a7a" stroke-width="1.3"/>
<rect x="768.02" y="121.00" width="4.6" height="30.80" fill="#e9413f"/>
<line x1="777.24" y1="144.4" x2="777.24" y2="172.9" stroke="#7a7a7a" stroke-width="1.3"/>
<rect x="774.94" y="150.00" width="4.6" height="18.40" fill="#e9413f"/>
<line x1="784.16" y1="163.3" x2="784.16" y2="180.0" stroke="#7a7a7a" stroke-width="1.3"/>
<line x1="781.76" y1="170.2" x2="786.56" y2="170.2" stroke="#8a8a8a" stroke-width="1"/>
<line x1="791.09" y1="162.2" x2="791.09" y2="183.0" stroke="#7a7a7a" stroke-width="1.3"/>
<rect x="788.79" y="169.00" width="4.6" height="4.00" fill="#e9413f"/>
<line x1="798.01" y1="162.4" x2="798.01" y2="174.0" stroke="#7a7a7a" stroke-width="1.3"/>
<rect x="795.71" y="166.50" width="4.6" height="7.50" fill="#22b04b"/>
<line x1="804.94" y1="129.0" x2="804.94" y2="169.8" stroke="#7a7a7a" stroke-width="1.3"/>
<rect x="802.64" y="135.60" width="4.6" height="33.00" fill="#22b04b"/>
<line x1="811.86" y1="122.0" x2="811.86" y2="143.0" stroke="#7a7a7a" stroke-width="1.3"/>
<rect x="809.56" y="124.40" width="4.6" height="10.60" fill="#22b04b"/>
<line x1="818.78" y1="122.2" x2="818.78" y2="140.0" stroke="#7a7a7a" stroke-width="1.3"/>
<rect x="816.48" y="126.50" width="4.6" height="9.50" fill="#e9413f"/>
<line x1="825.71" y1="104.0" x2="825.71" y2="148.4" stroke="#7a7a7a" stroke-width="1.3"/>
<rect x="823.41" y="114.00" width="4.6" height="22.40" fill="#22b04b"/>
<line x1="832.63" y1="114.4" x2="832.63" y2="146.4" stroke="#7a7a7a" stroke-width="1.3"/>
<rect x="830.33" y="117.60" width="4.6" height="25.40" fill="#e9413f"/>
<line x1="839.56" y1="125.0" x2="839.56" y2="150.6" stroke="#7a7a7a" stroke-width="1.3"/>
<rect x="837.26" y="126.40" width="4.6" height="18.60" fill="#22b04b"/>
<line x1="846.48" y1="124.4" x2="846.48" y2="140.0" stroke="#7a7a7a" stroke-width="1.3"/>
<rect x="844.18" y="131.00" width="4.6" height="6.60" fill="#e9413f"/>
<line x1="853.40" y1="128.0" x2="853.40" y2="147.6" stroke="#7a7a7a" stroke-width="1.3"/>
<rect x="851.10" y="137.60" width="4.6" height="4.40" fill="#e9413f"/>
<line x1="860.33" y1="119.0" x2="860.33" y2="142.4" stroke="#7a7a7a" stroke-width="1.3"/>
<rect x="858.03" y="123.00" width="4.6" height="19.00" fill="#22b04b"/>
<line x1="867.25" y1="120.0" x2="867.25" y2="143.0" stroke="#7a7a7a" stroke-width="1.3"/>
<rect x="864.95" y="125.60" width="4.6" height="14.00" fill="#e9413f"/>
<line x1="874.18" y1="123.0" x2="874.18" y2="143.0" stroke="#7a7a7a" stroke-width="1.3"/>
<rect x="871.88" y="129.60" width="4.6" height="11.40" fill="#22b04b"/>
<line x1="881.10" y1="128.0" x2="881.10" y2="158.0" stroke="#7a7a7a" stroke-width="1.3"/>
<rect x="878.80" y="130.00" width="4.6" height="25.00" fill="#e9413f"/>
<line x1="888.02" y1="153.6" x2="888.02" y2="173.0" stroke="#7a7a7a" stroke-width="1.3"/>
<rect x="885.72" y="158.00" width="4.6" height="1.60" fill="#e9413f"/>
<line x1="894.95" y1="158.8" x2="894.95" y2="178.4" stroke="#7a7a7a" stroke-width="1.3"/>
<rect x="892.65" y="159.60" width="4.6" height="14.40" fill="#e9413f"/>
<line x1="901.87" y1="152.2" x2="901.87" y2="177.0" stroke="#7a7a7a" stroke-width="1.3"/>
<rect x="899.57" y="156.50" width="4.6" height="19.50" fill="#22b04b"/>
<line x1="908.80" y1="132.4" x2="908.80" y2="158.0" stroke="#7a7a7a" stroke-width="1.3"/>
<rect x="906.50" y="138.60" width="4.6" height="17.60" fill="#22b04b"/>
<line x1="915.72" y1="137.6" x2="915.72" y2="147.0" stroke="#7a7a7a" stroke-width="1.3"/>
<rect x="913.42" y="141.00" width="4.6" height="1.40" fill="#e9413f"/>
<line x1="922.64" y1="124.4" x2="922.64" y2="145.6" stroke="#7a7a7a" stroke-width="1.3"/>
<rect x="920.34" y="127.40" width="4.6" height="16.60" fill="#22b04b"/>
<line x1="929.57" y1="119.0" x2="929.57" y2="130.0" stroke="#7a7a7a" stroke-width="1.3"/>
<rect x="927.27" y="125.00" width="4.6" height="4.60" fill="#22b04b"/>
<line x1="936.49" y1="108.4" x2="936.49" y2="128.0" stroke="#7a7a7a" stroke-width="1.3"/>
<rect x="934.19" y="109.40" width="4.6" height="18.20" fill="#22b04b"/>
<line x1="943.42" y1="100.4" x2="943.42" y2="119.6" stroke="#7a7a7a" stroke-width="1.3"/>
<rect x="941.12" y="109.60" width="4.6" height="4.40" fill="#e9413f"/>
<line x1="950.34" y1="109.6" x2="950.34" y2="149.6" stroke="#7a7a7a" stroke-width="1.3"/>
<rect x="948.04" y="114.00" width="4.6" height="35.00" fill="#e9413f"/>
<line x1="957.26" y1="145.6" x2="957.26" y2="159.5" stroke="#7a7a7a" stroke-width="1.3"/>
<rect x="954.96" y="149.60" width="4.6" height="6.90" fill="#e9413f"/>
<line x1="964.19" y1="147.6" x2="964.19" y2="163.0" stroke="#7a7a7a" stroke-width="1.3"/>
<rect x="961.89" y="156.30" width="4.6" height="1.40" fill="#e9413f"/>
<line x1="971.11" y1="155.0" x2="971.11" y2="171.8" stroke="#7a7a7a" stroke-width="1.3"/>
<rect x="968.81" y="155.30" width="4.6" height="14.70" fill="#e9413f"/>
<line x1="978.04" y1="135.8" x2="978.04" y2="174.0" stroke="#7a7a7a" stroke-width="1.3"/>
<rect x="975.74" y="138.30" width="4.6" height="32.40" fill="#22b04b"/>
<line x1="984.96" y1="127.4" x2="984.96" y2="142.5" stroke="#7a7a7a" stroke-width="1.3"/>
<line x1="991.88" y1="126.2" x2="991.88" y2="142.4" stroke="#7a7a7a" stroke-width="1.3"/>
<rect x="989.58" y="128.50" width="4.6" height="13.20" fill="#22b04b"/>
<line x1="998.81" y1="123.1" x2="998.81" y2="133.5" stroke="#7a7a7a" stroke-width="1.3"/>
<line x1="1005.73" y1="125.0" x2="1005.73" y2="141.8" stroke="#7a7a7a" stroke-width="1.3"/>
<rect x="1003.43" y="133.00" width="4.6" height="2.20" fill="#22b04b"/>
<line x1="1012.66" y1="119.0" x2="1012.66" y2="247.8" stroke="#7a7a7a" stroke-width="1.3"/>
<rect x="1010.36" y="136.80" width="4.6" height="103.90" fill="#e9413f"/>
<line x1="1019.58" y1="235.7" x2="1019.58" y2="259.8" stroke="#7a7a7a" stroke-width="1.3"/>
<rect x="1017.28" y="239.90" width="4.6" height="9.10" fill="#e9413f"/>
<line x1="1026.50" y1="225.7" x2="1026.50" y2="249.5" stroke="#7a7a7a" stroke-width="1.3"/>
<rect x="1024.20" y="239.00" width="4.6" height="8.80" fill="#22b04b"/>
<line x1="1033.43" y1="225.7" x2="1033.43" y2="247.8" stroke="#7a7a7a" stroke-width="1.3"/>
<rect x="1031.13" y="236.90" width="4.6" height="9.90" fill="#e9413f"/>
<line x1="1040.35" y1="215.8" x2="1040.35" y2="247.8" stroke="#7a7a7a" stroke-width="1.3"/>
<rect x="1038.05" y="226.60" width="4.6" height="20.20" fill="#22b04b"/>
<line x1="1047.28" y1="223.6" x2="1047.28" y2="239.0" stroke="#7a7a7a" stroke-width="1.3"/>
<rect x="1044.98" y="231.00" width="4.6" height="1.40" fill="#22b04b"/>
<line x1="1054.20" y1="213.6" x2="1054.20" y2="237.9" stroke="#7a7a7a" stroke-width="1.3"/>
<rect x="1051.90" y="231.00" width="4.6" height="6.90" fill="#e9413f"/>
<path d="M33.77,58.8 Q36.37,53.6 38.97,58.8" fill="none" stroke="#f05050" stroke-width="1"/>
<path d="M283.04,294.5 Q285.64,298.5 288.24,294.5" fill="none" stroke="#f05050" stroke-width="1"/>
</g>
<g clip-path="url(#rc)">
<polyline points="1.8,349.0 8.7,351.0 15.6,352.4 22.5,351.6 29.4,349.6 36.4,348.6 43.3,351.0 50.2,353.0 57.1,358.4 64.1,365.0 71.0,368.0 77.9,369.0 84.8,369.6 91.8,364.0 98.7,356.6 105.6,356.4 112.5,357.4 119.5,356.6 126.4,360.0 133.3,365.0 140.2,365.0 147.2,362.0 154.1,358.4 161.0,356.0 167.9,350.6 174.9,348.4 181.8,348.4 188.7,349.6 195.6,349.0 202.5,351.3 209.5,353.8 216.4,355.6 223.3,357.0 230.2,359.0 237.2,361.0 244.1,363.0 251.0,365.6 257.9,368.6 264.9,369.0 271.8,369.6 278.7,367.6 285.6,368.0 292.6,367.0 299.5,369.0 306.4,367.0 313.3,365.0 320.3,361.0 327.2,357.0 334.1,350.0 341.0,347.4 348.0,345.0 354.9,342.6 361.8,342.4 368.7,343.0 375.6,339.4 382.6,336.0 389.5,333.0 396.4,329.0 403.3,326.5 410.3,326.2 417.2,328.2 424.1,329.6 431.0,330.4 438.0,327.6 444.9,328.4 451.8,326.6 458.7,324.6 465.7,324.4 472.6,327.6 479.5,329.6 486.4,331.6 493.4,333.4 500.3,333.0 507.2,334.4 514.1,335.6 521.1,340.6 528.0,344.4 534.9,346.0 541.8,346.6 548.7,346.4 555.7,344.4 562.6,342.0 569.5,344.0 576.4,347.0 583.4,351.0 590.3,353.4 597.2,355.6 604.1,353.8 611.1,349.7 618.0,345.0 624.9,343.4 631.8,341.0 638.8,338.4 645.7,338.0 652.6,335.6 659.5,331.0 666.5,326.6 673.4,326.4 680.3,324.4 687.2,324.0 694.2,325.0 701.1,325.4 708.0,327.0 714.9,329.0 721.8,330.6 728.8,331.0 735.7,332.0 742.6,327.0 749.5,327.0 756.5,327.0 763.4,328.0 770.3,332.4 777.2,340.6 784.2,343.6 791.1,347.4 798.0,351.6 804.9,349.5 811.9,345.7 818.8,342.0 825.7,337.0 832.6,335.0 839.6,335.0 846.5,336.4 853.4,337.6 860.3,338.4 867.3,339.0 874.2,339.0 881.1,341.0 888.0,343.6 894.9,347.6 901.9,348.6 908.8,349.0 915.7,347.6 922.6,344.4 929.6,340.0 936.5,335.0 943.4,332.6 950.3,334.0 957.3,338.0 964.2,342.0 971.1,347.0 978.0,349.6 985.0,348.1 991.9,345.3 998.8,342.2 1005.7,338.2 1012.7,346.3 1019.6,354.3 1026.5,363.5 1033.4,371.5 1040.4,376.3 1047.3,374.2 1054.2,371.5" fill="none" stroke="#f08a45" stroke-width="1.6" stroke-linejoin="round" stroke-linecap="butt"/>
<polyline points="1.8,348.0 8.7,345.6 15.6,360.0 22.5,352.4 29.4,340.0 36.4,344.4 43.3,358.4 50.2,365.0 57.1,374.4 64.1,376.6 71.0,363.0 77.9,364.4 84.8,368.6 91.8,346.4 98.7,339.6 105.6,361.6 112.5,369.0 119.5,366.4 126.4,363.6 133.3,369.0 140.2,358.4 147.2,355.0 154.1,347.4 161.0,351.0 167.9,340.6 174.9,348.0 181.8,353.6 188.7,355.0 195.6,349.0 202.5,352.3 209.5,359.6 216.4,363.2 223.3,361.6 230.2,359.0 237.2,362.4 244.1,369.0 251.0,375.6 257.9,376.4 264.9,362.4 271.8,365.0 278.7,359.0 285.6,378.0 292.6,371.0 299.5,372.4 306.4,353.0 313.3,349.6 320.3,355.6 327.2,353.0 334.1,337.6 341.0,339.6 348.0,337.6 354.9,344.4 361.8,351.0 368.7,342.4 375.6,324.0 382.6,320.0 389.5,330.0 396.4,327.6 403.3,330.0 410.3,325.0 417.2,329.5 424.1,336.4 431.0,331.0 438.0,315.6 444.9,328.6 451.8,320.4 458.7,325.0 465.7,331.6 472.6,332.4 479.5,337.4 486.4,330.4 493.4,334.4 500.3,332.0 507.2,340.0 514.1,340.6 521.1,354.0 528.0,352.4 534.9,341.0 541.8,345.4 548.7,340.0 555.7,343.6 562.6,341.0 569.5,350.0 576.4,359.4 583.4,362.4 590.3,357.0 597.2,349.0 604.1,341.3 611.1,338.8 618.0,337.6 624.9,346.4 631.8,341.6 638.8,328.0 645.7,339.0 652.6,324.4 659.5,321.0 666.5,319.6 673.4,328.4 680.3,328.0 687.2,322.4 694.2,328.0 701.1,319.0 708.0,336.0 714.9,339.0 721.8,333.0 728.8,328.0 735.7,323.0 742.6,312.4 749.5,340.0 756.5,333.0 763.4,330.4 770.3,346.4 777.2,353.0 784.2,353.6 791.1,355.0 798.0,351.6 804.9,336.2 811.9,331.6 818.8,337.0 825.7,328.6 832.6,342.0 839.6,336.0 846.5,340.0 853.4,342.0 860.3,334.4 867.3,342.0 874.2,337.6 881.1,349.0 888.0,351.0 894.9,357.0 901.9,348.0 908.8,339.6 915.7,341.0 922.6,334.0 929.6,333.0 936.5,326.4 943.4,329.0 950.3,347.6 957.3,351.0 964.2,351.6 971.1,357.0 978.0,340.0 985.0,341.3 991.9,335.4 998.8,337.0 1005.7,337.8 1012.7,380.0 1019.6,381.4 1026.5,376.3 1033.4,378.1 1040.4,367.0 1047.3,368.5 1054.2,370.8" fill="none" stroke="#1fad4a" stroke-width="1.8" stroke-linejoin="round" stroke-linecap="butt"/>
</g>
<path d="M1017.9,382.2 Q1019.6,384.2 1021.3,382.2" fill="none" stroke="#f05050" stroke-width="1"/>
<line x1="2.5" y1="304.8" x2="1061.5" y2="304.8" stroke="#b2b2b2" stroke-width="1.6"/>
<line x1="2.5" y1="381.8" x2="1061.5" y2="381.8" stroke="#a4a4a4" stroke-width="1.6"/>
<line x1="2.5" y1="388.2" x2="1061.5" y2="388.2" stroke="#e2e2e2" stroke-width="1.2"/>
<line x1="1061.7" y1="18" x2="1061.7" y2="388.5" stroke="#dcdcdc" stroke-width="1.2"/>
<rect x="4" y="19.5" width="875" height="12.5" fill="#fff"/>
<text x="6.9" y="29.9" font-size="9.9" fill="#2b2b2b" stroke="#2b2b2b" stroke-width="0.22" textLength="57.0" lengthAdjust="spacingAndGlyphs">01/21/2026</text>
<text x="68.0" y="29.9" font-size="9.9" fill="#2b2b2b" stroke="#2b2b2b" stroke-width="0.22" textLength="101.8" lengthAdjust="spacingAndGlyphs">Corn (ZCH26) [CBOT]</text>
<text x="174.2" y="29.9" font-size="9.9" fill="#a9a9a9" stroke="#a9a9a9" stroke-width="0.22" textLength="7.8" lengthAdjust="spacingAndGlyphs">O</text>
<text x="183.6" y="29.9" font-size="9.9" fill="#e84646" stroke="#e84646" stroke-width="0.22" textLength="27.7" lengthAdjust="spacingAndGlyphs">423-6</text>
<text x="215.7" y="29.9" font-size="9.9" fill="#a9a9a9" stroke="#a9a9a9" stroke-width="0.22" textLength="7.1" lengthAdjust="spacingAndGlyphs">H</text>
<text x="224.0" y="29.9" font-size="9.9" fill="#e84646" stroke="#e84646" stroke-width="0.22" textLength="28.4" lengthAdjust="spacingAndGlyphs">427-6</text>
<text x="256.7" y="29.9" font-size="9.9" fill="#a9a9a9" stroke="#a9a9a9" stroke-width="0.22" textLength="5.1" lengthAdjust="spacingAndGlyphs">L</text>
<text x="263.3" y="29.9" font-size="9.9" fill="#e84646" stroke="#e84646" stroke-width="0.22" textLength="27.6" lengthAdjust="spacingAndGlyphs">422-2</text>
<text x="295.3" y="29.9" font-size="9.9" fill="#a9a9a9" stroke="#a9a9a9" stroke-width="0.22" textLength="6.9" lengthAdjust="spacingAndGlyphs">C</text>
<text x="304.0" y="29.9" font-size="9.9" fill="#e84646" stroke="#e84646" stroke-width="0.22" textLength="26.9" lengthAdjust="spacingAndGlyphs">422-2</text>
<text x="335.3" y="29.9" font-size="9.9" fill="#a9a9a9" stroke="#a9a9a9" stroke-width="0.22" textLength="6.7" lengthAdjust="spacingAndGlyphs">Δ</text>
<text x="343.3" y="29.9" font-size="9.9" fill="#e84646" stroke="#e84646" stroke-width="0.22" textLength="60.0" lengthAdjust="spacingAndGlyphs">-1-4 (-0.35%)</text>
<text x="408.4" y="29.9" font-size="9.9" fill="#2b2b2b" stroke="#2b2b2b" stroke-width="0.22" textLength="135.6" lengthAdjust="spacingAndGlyphs">Moving Average (20, Close, 0)</text>
<text x="549.1" y="29.9" font-size="9.9" fill="#2b2b2b" stroke="#2b2b2b" stroke-width="0.22" textLength="58.9" lengthAdjust="spacingAndGlyphs">(20, Close, 0)</text>
<text x="612.7" y="29.9" font-size="9.9" fill="#a6d9e6" stroke="#a6d9e6" stroke-width="0.22" textLength="27.8" lengthAdjust="spacingAndGlyphs">436-6</text>
<text x="645.0" y="29.9" font-size="9.9" fill="#2b2b2b" stroke="#2b2b2b" stroke-width="0.22" textLength="135.5" lengthAdjust="spacingAndGlyphs">Moving Average (50, Close, 0)</text>
<text x="786.1" y="29.9" font-size="9.9" fill="#2b2b2b" stroke="#2b2b2b" stroke-width="0.22" textLength="58.6" lengthAdjust="spacingAndGlyphs">(50, Close, 0)</text>
<text x="849.5" y="29.9" font-size="9.9" fill="#4fcd74" stroke="#4fcd74" stroke-width="0.22" textLength="27.2" lengthAdjust="spacingAndGlyphs">441-1</text>
<text x="6.5" y="42.6" font-size="9.9" fill="#2b2b2b" stroke="#2b2b2b" stroke-width="0.22" textLength="142.5" lengthAdjust="spacingAndGlyphs">Moving Average (100, Close, 0)</text>
<text x="154.8" y="42.6" font-size="9.9" fill="#2b2b2b" stroke="#2b2b2b" stroke-width="0.22" textLength="64.7" lengthAdjust="spacingAndGlyphs">(100, Close, 0)</text>
<text x="224.0" y="42.6" font-size="9.9" fill="#ff4fd6" stroke="#ff4fd6" stroke-width="0.22" textLength="27.6" lengthAdjust="spacingAndGlyphs">439-7</text>
<text x="256.7" y="42.6" font-size="9.9" fill="#2b2b2b" stroke="#2b2b2b" stroke-width="0.22" textLength="142.2" lengthAdjust="spacingAndGlyphs">Moving Average (200, Close, 0)</text>
<text x="404.0" y="42.6" font-size="9.9" fill="#2b2b2b" stroke="#2b2b2b" stroke-width="0.22" textLength="64.7" lengthAdjust="spacingAndGlyphs">(200, Close, 0)</text>
<text x="473.1" y="42.6" font-size="9.9" fill="#2b2b2b" stroke="#2b2b2b" stroke-width="0.22" textLength="28.0" lengthAdjust="spacingAndGlyphs">443-5</text>
<text x="7.0" y="318.1" font-size="10.2" fill="#2b2b2b" stroke="#2b2b2b" stroke-width="0.22" textLength="184.0" lengthAdjust="spacingAndGlyphs">Relative Strength Index (RSI) (14, MA, 5)</text>
<text x="197.0" y="318.1" font-size="10.2" fill="#2b2b2b" stroke="#2b2b2b" stroke-width="0.22" textLength="49.0" lengthAdjust="spacingAndGlyphs">(14, MA, 5)</text>
<text x="251.6" y="318.1" font-size="10.2" fill="#1fad4a" stroke="#1fad4a" stroke-width="0.22" textLength="25.4" lengthAdjust="spacingAndGlyphs">35.64</text>
<text x="282.0" y="318.1" font-size="10.2" fill="#f08a45" stroke="#f08a45" stroke-width="0.22" textLength="26.0" lengthAdjust="spacingAndGlyphs">34.91</text>
<text x="1094" y="27.4" font-size="9.8" fill="#2b2b2b" stroke="#2b2b2b" stroke-width="0.2" text-anchor="end" textLength="23.6" lengthAdjust="spacingAndGlyphs">470-0</text>
<text x="1094" y="72.0" font-size="9.8" fill="#2b2b2b" stroke="#2b2b2b" stroke-width="0.2" text-anchor="end" textLength="23.6" lengthAdjust="spacingAndGlyphs">460-0</text>
<text x="1094" y="116.7" font-size="9.8" fill="#2b2b2b" stroke="#2b2b2b" stroke-width="0.2" text-anchor="end" textLength="23.6" lengthAdjust="spacingAndGlyphs">450-0</text>
<text x="1094" y="161.3" font-size="9.8" fill="#2b2b2b" stroke="#2b2b2b" stroke-width="0.2" text-anchor="end" textLength="23.6" lengthAdjust="spacingAndGlyphs">440-0</text>
<text x="1094" y="206.0" font-size="9.8" fill="#2b2b2b" stroke="#2b2b2b" stroke-width="0.2" text-anchor="end" textLength="23.6" lengthAdjust="spacingAndGlyphs">430-0</text>
<text x="1094" y="250.7" font-size="9.8" fill="#2b2b2b" stroke="#2b2b2b" stroke-width="0.2" text-anchor="end" textLength="23.6" lengthAdjust="spacingAndGlyphs">420-0</text>
<text x="1094" y="295.3" font-size="9.8" fill="#2b2b2b" stroke="#2b2b2b" stroke-width="0.2" text-anchor="end" textLength="23.6" lengthAdjust="spacingAndGlyphs">410-0</text>
<text x="1092.6" y="325.1" font-size="9.8" fill="#2b2b2b" stroke="#2b2b2b" stroke-width="0.2" text-anchor="end" textLength="22.2" lengthAdjust="spacingAndGlyphs">60.00</text>
<text x="1092.6" y="364.8" font-size="9.8" fill="#2b2b2b" stroke="#2b2b2b" stroke-width="0.2" text-anchor="end" textLength="22.2" lengthAdjust="spacingAndGlyphs">40.00</text>
<rect x="1061.5" y="165.2" width="35" height="14.5" fill="#bee4ec"/>
<text x="1069.7" y="175.9" font-size="9.8" font-weight="bold" fill="#222" textLength="23.0" lengthAdjust="spacingAndGlyphs">436-6</text>
<rect x="1061.5" y="134.5" width="35" height="14.2" fill="#000"/>
<text x="1069.7" y="145.1" font-size="9.8" font-weight="bold" fill="#fff" textLength="23.0" lengthAdjust="spacingAndGlyphs">443-5</text>
<rect x="1061.5" y="145.4" width="35" height="14.1" fill="#4fcd74"/>
<text x="1069.7" y="155.9" font-size="9.8" font-weight="bold" fill="#222" textLength="23.0" lengthAdjust="spacingAndGlyphs">441-1</text>
<rect x="1061.5" y="151.1" width="35" height="13.9" fill="#ff4fd6"/>
<text x="1069.7" y="161.6" font-size="9.8" font-weight="bold" fill="#fff" textLength="23.0" lengthAdjust="spacingAndGlyphs">439-7</text>
<rect x="1061.5" y="230.2" width="35" height="15.5" fill="#e9413f"/>
<text x="1069.7" y="241.4" font-size="9.8" font-weight="bold" fill="#fff" textLength="23.0" lengthAdjust="spacingAndGlyphs">422-2</text>
<rect x="1061.5" y="362.8" width="35" height="15.0" fill="#1fad4a"/>
<text x="1071.1" y="373.8" font-size="9.8" font-weight="bold" fill="#fff" textLength="21.6" lengthAdjust="spacingAndGlyphs">35.64</text>
<rect x="1061.5" y="363.4" width="35" height="16.0" fill="#f08a45"/>
<text x="1071.1" y="374.9" font-size="9.8" font-weight="bold" fill="#222" textLength="21.6" lengthAdjust="spacingAndGlyphs">34.91</text>
<clipPath id="xc"><rect x="3" y="383" width="1094" height="26"/></clipPath><g clip-path="url(#xc)">
<text x="15.60" y="401.6" font-size="9.5" fill="#2b2b2b" stroke="#2b2b2b" stroke-width="0.2" text-anchor="middle" textLength="25.4" lengthAdjust="spacingAndGlyphs">Jun 16</text>
<text x="77.92" y="401.6" font-size="9.5" fill="#2b2b2b" stroke="#2b2b2b" stroke-width="0.2" text-anchor="middle" textLength="25.4" lengthAdjust="spacingAndGlyphs">Jun 30</text>
<text x="140.23" y="401.6" font-size="9.5" fill="#2b2b2b" stroke="#2b2b2b" stroke-width="0.2" text-anchor="middle" textLength="22.6" lengthAdjust="spacingAndGlyphs">Jul 14</text>
<text x="209.47" y="401.6" font-size="9.5" fill="#2b2b2b" stroke="#2b2b2b" stroke-width="0.2" text-anchor="middle" textLength="22.6" lengthAdjust="spacingAndGlyphs">Jul 28</text>
<text x="278.71" y="401.6" font-size="9.5" fill="#2b2b2b" stroke="#2b2b2b" stroke-width="0.2" text-anchor="middle" textLength="26.2" lengthAdjust="spacingAndGlyphs">Aug 11</text>
<text x="347.95" y="401.6" font-size="9.5" fill="#2b2b2b" stroke="#2b2b2b" stroke-width="0.2" text-anchor="middle" textLength="26.8" lengthAdjust="spacingAndGlyphs">Aug 25</text>
<text x="410.27" y="401.6" font-size="9.5" fill="#2b2b2b" stroke="#2b2b2b" stroke-width="0.2" text-anchor="middle" textLength="22.1" lengthAdjust="spacingAndGlyphs">Sep 8</text>
<text x="479.51" y="401.6" font-size="9.5" fill="#2b2b2b" stroke="#2b2b2b" stroke-width="0.2" text-anchor="middle" textLength="26.8" lengthAdjust="spacingAndGlyphs">Sep 22</text>
<text x="548.75" y="401.6" font-size="9.5" fill="#2b2b2b" stroke="#2b2b2b" stroke-width="0.2" text-anchor="middle" textLength="20.2" lengthAdjust="spacingAndGlyphs">Oct 6</text>
<text x="617.99" y="401.6" font-size="9.5" fill="#2b2b2b" stroke="#2b2b2b" stroke-width="0.2" text-anchor="middle" textLength="24.9" lengthAdjust="spacingAndGlyphs">Oct 20</text>
<text x="687.23" y="401.6" font-size="9.5" fill="#2b2b2b" stroke="#2b2b2b" stroke-width="0.2" text-anchor="middle" textLength="22.1" lengthAdjust="spacingAndGlyphs">Nov 3</text>
<text x="756.47" y="401.6" font-size="9.5" fill="#2b2b2b" stroke="#2b2b2b" stroke-width="0.2" text-anchor="middle" textLength="26.8" lengthAdjust="spacingAndGlyphs">Nov 17</text>
<text x="818.78" y="401.6" font-size="9.5" fill="#2b2b2b" stroke="#2b2b2b" stroke-width="0.2" text-anchor="middle" textLength="22.1" lengthAdjust="spacingAndGlyphs">Dec 1</text>
<text x="888.02" y="401.6" font-size="9.5" fill="#2b2b2b" stroke="#2b2b2b" stroke-width="0.2" text-anchor="middle" textLength="26.8" lengthAdjust="spacingAndGlyphs">Dec 15</text>
<text x="950.34" y="401.6" font-size="9.5" fill="#2b2b2b" stroke="#2b2b2b" stroke-width="0.2" text-anchor="middle" textLength="26.8" lengthAdjust="spacingAndGlyphs">Dec 29</text>
<text x="1012.66" y="401.6" font-size="9.5" fill="#2b2b2b" stroke="#2b2b2b" stroke-width="0.2" text-anchor="middle" textLength="25.4" lengthAdjust="spacingAndGlyphs">Jan 12</text>
</g>
<text x="4.9" y="417.2" font-size="6.6" fill="#333" stroke="#333" stroke-width="0.12" textLength="153.5" lengthAdjust="spacingAndGlyphs">Generated by cmdtyView, January 21st 2026, 10:51:53 am</text>
</svg></body></html>
